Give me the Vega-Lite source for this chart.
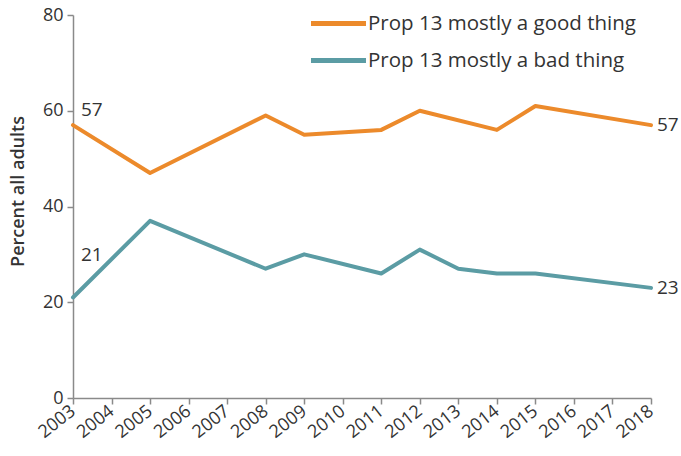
{
  "$schema": "https://vega.github.io/schema/vega-lite/v6.json",
  "width": 578,
  "height": 383,
  "autosize": "none",
  "padding": {"left": 73, "top": 15, "right": 30, "bottom": 58},
  "background": "white",
  "config": {
    "view": {"stroke": null},
    "font": "Open Sans",
    "axis": {"grid": false, "domainColor": "#8a8a8a", "tickColor": "#8a8a8a", "domainWidth": 1.5, "tickWidth": 1.5, "labelColor": "#333333", "labelFont": "Open Sans", "labelFontSize": 18, "titleFont": "Open Sans", "titleColor": "#333333"}
  },
  "datasets": {
    "series": [
      {"year": 2003, "value": 57, "series": "Prop 13 mostly a good thing"},
      {"year": 2005, "value": 47, "series": "Prop 13 mostly a good thing"},
      {"year": 2008, "value": 59, "series": "Prop 13 mostly a good thing"},
      {"year": 2009, "value": 55, "series": "Prop 13 mostly a good thing"},
      {"year": 2011, "value": 56, "series": "Prop 13 mostly a good thing"},
      {"year": 2012, "value": 60, "series": "Prop 13 mostly a good thing"},
      {"year": 2014, "value": 56, "series": "Prop 13 mostly a good thing"},
      {"year": 2015, "value": 61, "series": "Prop 13 mostly a good thing"},
      {"year": 2018, "value": 57, "series": "Prop 13 mostly a good thing"},
      {"year": 2003, "value": 21, "series": "Prop 13 mostly a bad thing"},
      {"year": 2005, "value": 37, "series": "Prop 13 mostly a bad thing"},
      {"year": 2008, "value": 27, "series": "Prop 13 mostly a bad thing"},
      {"year": 2009, "value": 30, "series": "Prop 13 mostly a bad thing"},
      {"year": 2011, "value": 26, "series": "Prop 13 mostly a bad thing"},
      {"year": 2012, "value": 31, "series": "Prop 13 mostly a bad thing"},
      {"year": 2013, "value": 27, "series": "Prop 13 mostly a bad thing"},
      {"year": 2014, "value": 26, "series": "Prop 13 mostly a bad thing"},
      {"year": 2015, "value": 26, "series": "Prop 13 mostly a bad thing"},
      {"year": 2018, "value": 23, "series": "Prop 13 mostly a bad thing"}
    ]
  },
  "data": {"name": "series"},
  "encoding": {
    "x": {"field": "year", "type": "quantitative", "scale": {"domain": [2003, 2018], "nice": false, "zero": false},
      "axis": {"title": null, "values": [2003,2004,2005,2006,2007,2008,2009,2010,2011,2012,2013,2014,2015,2016,2017,2018], "format": "d", "labelAngle": -38, "labelAlign": "right", "labelBaseline": "middle", "labelPadding": 5, "tickSize": 6, "labelFlush": false, "labelOverlap": false}},
    "y": {"field": "value", "type": "quantitative", "scale": {"domain": [0, 80], "nice": false},
      "axis": {"title": "Percent all adults", "values": [0,20,40,60,80], "tickSize": 6, "labelPadding": 4, "titleFontSize": 18, "titleFontWeight": 600, "titlePadding": 15, "titleY": 176}}
  },
  "layer": [
    {
      "mark": {"type": "line", "strokeWidth": 4, "strokeCap": "round", "strokeJoin": "round"},
      "encoding": {
        "color": {"field": "series", "type": "nominal",
          "scale": {"domain": ["Prop 13 mostly a good thing", "Prop 13 mostly a bad thing"], "range": ["#ec8a2b", "#5b9ca4"]},
          "legend": {"title": null, "orient": "none", "legendX": 249, "legendY": -8, "symbolType": "M-2,0H2", "symbolStrokeWidth": 5, "symbolSize": 756, "symbolFillColor": "transparent", "labelFontSize": 20.5, "labelColor": "#333333", "labelFont": "Open Sans", "labelLimit": 400, "rowPadding": 10, "labelOffset": 13, "symbolOffset": 0}}
      }
    },
    {
      "transform": [{"filter": "datum.year == 2003 && datum.value > 40"}],
      "mark": {"type": "text", "align": "left", "dx": 8, "dy": -15, "fontSize": 19, "color": "#333333"},
      "encoding": {"text": {"field": "value", "type": "quantitative"}}
    },
    {
      "transform": [{"filter": "datum.year == 2003 && datum.value < 40"}],
      "mark": {"type": "text", "align": "left", "dx": 8, "dy": -42, "fontSize": 19, "color": "#333333"},
      "encoding": {"text": {"field": "value", "type": "quantitative"}}
    },
    {
      "transform": [{"filter": "datum.year == 2018"}],
      "mark": {"type": "text", "align": "left", "dx": 6, "dy": 0, "fontSize": 19, "color": "#333333"},
      "encoding": {"text": {"field": "value", "type": "quantitative"}}
    }
  ]
}
